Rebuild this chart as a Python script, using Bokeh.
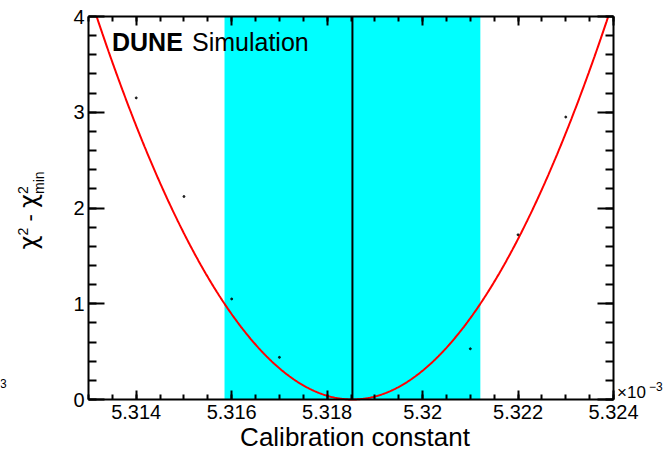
import numpy as np
from bokeh.plotting import figure
from bokeh.models import (Label, LinearAxis, FixedTicker, ColumnDataSource,
                          Range1d, CustomLabelingPolicy)
from bokeh.embed import file_html
from bokeh.resources import INLINE

# Fit result (calibration constant in units of 1e-3)
best_fit = 5.31853
sigma = 0.00268

# Scan points of chi2 - chi2_min
scan_x = [5.314, 5.315, 5.316, 5.317, 5.321, 5.322, 5.323]
scan_y = [3.15, 2.12, 1.05, 0.44, 0.53, 1.72, 2.95]

x_major = [5.314, 5.316, 5.318, 5.320, 5.322, 5.324]
x_labels = ["5.314", "5.316", "5.318", "5.32", "5.322", "5.324"]
y_major = [0, 1, 2, 3, 4]
y_labels = ["0", "1", "2", "3", "4"]

X0, X1 = 5.313, 5.324
Y0, Y1 = 0.0, 4.0

FONT = "Liberation Sans"
GREEK = "DejaVu Sans"
W, H = 665, 453
# pad (px) around the axis box: left, right, top, bottom
PL, PR, PT, PB = 88, 52, 16, 54

kx = (X1 - X0) / (W - PL - PR)
ky = (Y1 - Y0) / (H - PT - PB)
x_range = Range1d(X0 - PL * kx, X1 + PR * kx)
y_range = Range1d(Y0 - PB * ky, Y1 + PT * ky)

p = figure(width=W, height=H, x_range=x_range, y_range=y_range,
           output_backend="svg", toolbar_location=None, title=None,
           x_axis_location=None, y_axis_location=None,
           min_border=0, min_border_left=0, min_border_right=0,
           min_border_top=0, min_border_bottom=0)
p.outline_line_color = None
p.xgrid.visible = False
p.ygrid.visible = False
p.background_fill_color = "white"
p.border_fill_color = "white"

x_minor = list(np.round(np.arange(X0, X1 + 1e-9, 0.0005), 4))
y_minor = list(np.round(np.arange(Y0, Y1 + 1e-9, 0.2), 2))


def make_axis(kind, loc, show_labels):
    if kind == "x":
        ticker = FixedTicker(ticks=x_major, minor_ticks=x_minor)
        overrides = {t: l for t, l in zip(x_major, x_labels)}
        tin, min_in, bounds = 9, 5, (X0, X1)
    else:
        ticker = FixedTicker(ticks=y_major, minor_ticks=y_minor)
        overrides = {t: l for t, l in zip(y_major, y_labels)}
        tin, min_in, bounds = 16, 8, (Y0, Y1)
    ax = LinearAxis(ticker=ticker, major_label_overrides=overrides,
                    fixed_location=loc, bounds=bounds)
    ax.axis_line_width = 2
    ax.axis_line_color = "black"
    ax.major_tick_line_width = 2
    ax.minor_tick_line_width = 2
    ax.major_tick_in = tin
    ax.major_tick_out = 0
    ax.minor_tick_in = min_in
    ax.minor_tick_out = 0
    ax.major_label_text_font = FONT
    ax.major_label_text_color = "black"
    ax.major_label_text_font_size = "20px"
    if show_labels:
        ax.major_label_standoff = 5 if kind == "x" else 4
    else:
        ax.major_label_policy = CustomLabelingPolicy(code="return []")
    return ax


p.add_layout(make_axis("x", Y0, True), "below")
p.add_layout(make_axis("x", Y1, False), "above")
p.add_layout(make_axis("y", X0, True), "left")
p.add_layout(make_axis("y", X1, False), "right")

# 1-sigma band
p.quad(left=[best_fit - sigma], right=[best_fit + sigma], bottom=[Y0], top=[Y1],
       fill_color="#00FFFF", line_color=None)

# Parabola from the fit, drawn up to the top of the axis box
half = sigma * np.sqrt(Y1)
xs = np.linspace(best_fit - half, best_fit + half, 600)
ys = ((xs - best_fit) / sigma) ** 2
p.line(xs, ys, line_color="#FF0000", line_width=2)

# Best-fit value
p.segment(x0=[best_fit], y0=[Y0], x1=[best_fit], y1=[Y1], line_color="black", line_width=2)

# Scan points
src = ColumnDataSource(dict(x=scan_x, y=scan_y))
p.scatter("x", "y", source=src, size=2, color="black", alpha=0.8)

MID = 0.35  # anchor-to-baseline offset of a label, in em


def lab(text, x, yb, size, bold=False, rotated=False, align="left", font=FONT):
    # x: pixel column of the text start, yb: pixel row (from top) of its baseline;
    # for rotated text x is the baseline column and yb the row where the text starts
    if rotated:
        sx, sy, ang = x - MID * size, H - yb, np.pi / 2
    else:
        sx, sy, ang = x, H - yb + MID * size, 0.0
    p.add_layout(Label(x=sx, y=sy, x_units="screen", y_units="screen", text=text,
                       text_font=font, text_font_size=f"{size}px",
                       text_font_style="bold" if bold else "normal",
                       text_color="black", angle=ang, text_align=align,
                       text_baseline="alphabetic"))


# Header
lab("DUNE", 111.5, 50, 25, bold=True)
lab("Simulation", 191.5, 50, 25)

# X title and exponent
lab("Calibration constant", 354.5, 446, 26, align="center")
lab("\u00d710", 616.5, 398, 17)
lab("\u22123", 648.5, 390, 12)
lab("3", -0.5, 387, 12)

# Y title: chi^2 - chi^2_min, reading upwards
lab("\u03c7", 37, 249, 24, rotated=True, font=GREEK)
lab("2", 27, 235, 14, rotated=True)
lab("-", 37, 221, 22, rotated=True)
lab("\u03c7", 37, 207.5, 24, rotated=True, font=GREEK)
lab("2", 27, 193.5, 14, rotated=True)
lab("min", 43, 193.5, 14, rotated=True)

open("out.html", "w").write(file_html(p, INLINE))
